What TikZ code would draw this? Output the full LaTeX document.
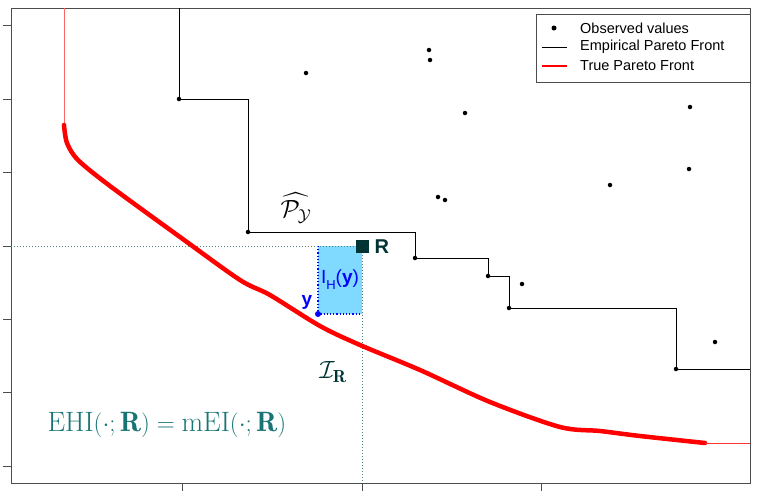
\documentclass[tikz,border=0pt]{standalone}
\usepackage{amsmath,amssymb,bm}
\usepackage{fontspec}
\newfontfamily\lsans{Liberation Sans}
\begin{document}
\begin{tikzpicture}[x=1pt,y=-1pt,
  pt/.style={circle,fill=black,inner sep=0pt,minimum size=4.5pt},
  frontline/.style={black,line width=0.6pt},
  refline/.style={draw=teal!60!black!70,dotted,line width=1pt},
  tick/.style={black!70,line width=0.6pt}]
\useasboundingbox (0,0) rectangle (758,496);
% frame
\draw[black!70,line width=0.7pt] (11,8) rectangle (750,483);
\foreach \yy in {25,99,172,246,319,392,466} \draw[tick] (11,\yy) -- (3,\yy);
\foreach \xx in {182,362,541} \draw[tick] (\xx,483) -- (\xx,491);
% blue box
\fill[blue!30!cyan!50] (318,246) rectangle (362,314);
\draw[blue,dotted,line width=1.2pt] (318,246) -- (318,314) -- (362,314);
% reference lines
\draw[refline] (11,246) -- (362,246) -- (362,483);
% red front
\draw[red!60,line width=0.8pt] (64,8) -- (64,125);
\draw[red,line width=4.5pt,line cap=round] plot[smooth,tension=0.5] coordinates{(64,125) (67,143) (78,160) (110,186) (180,237) (240,280) (270,295) (320,326) (360,345) (420,370) (490,402) (560,427) (600,431) (640,436) (705,443)};
\draw[red!80,line width=0.8pt] (705,443) -- (750,443);
% empirical front
\draw[frontline] (179,8) -- (179,99) -- (248,99) -- (248,232) -- (415,232) -- (415,258) -- (488,258) -- (488,276) -- (509,276) -- (509,308) -- (676,308) -- (676,369) -- (750,369);
\foreach \p/\n in {{(179,99)}/a,{(248,232)}/b,{(415,258)}/c,{(488,276)}/d,{(509,308)}/e,{(676,369)}/f,{(306,73)}/g,{(429,50)}/h,{(430,60)}/i,{(465,113)}/j,{(438,197)}/k,{(445,200)}/l,{(610,185)}/m,{(690,107)}/n,{(689,169)}/o,{(522,284)}/p,{(715,342)}/q}
  \node[pt] (\n) at \p {};
% R and y
\node[fill=teal!40!black,minimum size=13pt,inner sep=0pt] (R) at (362,246) {};
\node[text=teal!40!black,font=\lsans\bfseries\fontsize{20}{20}\selectfont,anchor=west] (Rl) at (371,247) {R};
\node[circle,fill=blue,inner sep=0pt,minimum size=6pt] (y) at (318,314) {};
\node[text=blue,font=\lsans\bfseries\fontsize{19}{19}\selectfont] (yl) at (307,302) {y};
\node[text=blue,font=\lsans\fontsize{19}{19}\selectfont] (IH) at (340,280) {I\raisebox{-6pt}{\fontsize{13}{13}\selectfont H}(\textbf{y})};
\node[font=\fontsize{25}{25}\selectfont] (P) at (296,208) {$\widehat{\mathcal{P}_{\mathcal{Y}}}$};
\node[text=teal!40!black,font=\fontsize{25}{25}\selectfont] (IR) at (333,372) {$\mathcal{I}_{\mathbf{R}}$};
\node[text=teal!80!black!90,font=\fontsize{28}{28}\selectfont,anchor=west] (E) at (44,425) {$\mathrm{EHI}(\cdot;\mathbf{R})=\mathrm{mEI}(\cdot;\mathbf{R})$};
% legend
\draw[black!70,line width=0.6pt,fill=white] (536,14) rectangle (750,82);
\node[pt,minimum size=5pt] (l1) at (554,28) {};
\draw[black,line width=0.6pt] (542,47) -- (567,47);
\draw[red,line width=1.5pt] (542,66) -- (567,66);
\begin{scope}[font=\lsans\fontsize{14.5}{15}\selectfont]
\node[anchor=west,inner sep=0pt] (t1) at (580,28) {Observed values};
\node[anchor=west,inner sep=0pt] (t2) at (580,47) {Empirical Pareto Front};
\node[anchor=west,inner sep=0pt] (t3) at (580,66) {True Pareto Front};
\end{scope}
\end{tikzpicture}
\end{document}
